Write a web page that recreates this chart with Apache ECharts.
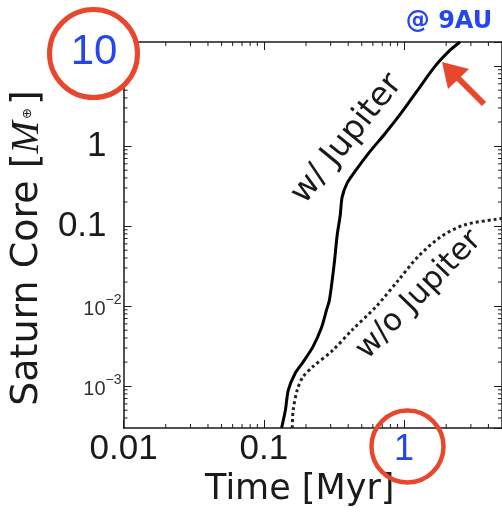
<!DOCTYPE html>
<html><head><meta charset="utf-8">
<script src="https://cdn.jsdelivr.net/npm/echarts@6/dist/echarts.min.js"></script>
<style>html,body{margin:0;padding:0;background:#fff}#c{width:502px;height:513px}</style>
</head><body><div id="c"></div>
<script>
// ---- data ----
const timeWithJupiter = [0.134, 0.1426, 0.1496, 0.1675, 0.1905, 0.224, 0.2586, 0.280, 0.294, 0.318, 0.334, 0.351, 0.362, 0.393, 0.454, 0.560, 0.736, 0.953, 1.253, 1.647, 2.13, 2.51];
const coreWithJupiter = [3e-4, 5e-4, 8.9e-4, 1.45e-3, 2e-3, 3.1e-3, 5.46e-3, 8.9e-3, 0.0119, 0.034, 0.078, 0.137, 0.23, 0.345, 0.50, 0.818, 1.45, 2.58, 5.01, 9.72, 15.8, 20];
const timeNoJupiter = [0.1596, 0.162, 0.173, 0.19, 0.224, 0.31, 0.425, 0.63, 0.91, 1.25, 1.82, 2.67, 4.54, 5];
const coreNoJupiter = [3e-4, 5e-4, 8.9e-4, 1.3e-3, 1.75e-3, 2.8e-3, 5e-3, 9.8e-3, 0.021, 0.041, 0.073, 0.103, 0.122, 0.125];

const xRange = [0.01, 5];
const yRange = [3e-4, 20];
const xTickValues = [0.01, 0.1, 1];
const xTickLabels = ['0.01', '0.1', '1'];
const yTickValues = [0.001, 0.01, 0.1, 1];
const yTickLabels = ['10^-3', '10^-2', '0.1', '1'];
const xMinorTicks = [0.02,0.03,0.04,0.05,0.06,0.07,0.08,0.09,0.2,0.3,0.4,0.5,0.6,0.7,0.8,0.9,2,3,4];
const yMinorTicks = [4e-4,5e-4,6e-4,7e-4,8e-4,9e-4,0.002,0.003,0.004,0.005,0.006,0.007,0.008,0.009,
  0.02,0.03,0.04,0.05,0.06,0.07,0.08,0.09,0.2,0.3,0.4,0.5,0.6,0.7,0.8,0.9,2,3,4,5,6,7,8,9];
const labelWith = 'w/ Jupiter';
const labelWithout = 'w/o Jupiter';
const locationLabel = '@ 9AU';

const FONT = 'Liberation Sans';
const TFONT = 'DejaVu Sans';
const BLUE = '#2446f0';
const RED = '#e8472d';
const INK = '#1a1a1a';

function findIdx(arr, v) {
  for (let i = 0; i < arr.length; i++) {
    if (Math.abs(Math.log10(arr[i]) - Math.log10(v)) < 1e-6) return i;
  }
  return -1;
}
const zip = (a, b) => a.map((v, i) => [v, b[i]]);

const chart = echarts.init(document.getElementById('c'), null, {renderer: 'canvas'});

const frameAxis = {
  type: 'log', logBase: 10,
  axisLine: {show: true, lineStyle: {color: INK, width: 1.5}},
  axisTick: {show: true, inside: true, length: 8, lineStyle: {color: INK, width: 1}},
  splitLine: {show: false},
  minorTick: {show: false}
};

chart.setOption({
  animation: false,
  backgroundColor: '#fff',
  textStyle: {fontFamily: FONT},
  grid: {left: 120, top: 42, right: -4, bottom: 85, containLabel: false},
  xAxis: [
    Object.assign({}, frameAxis, {
      position: 'bottom', min: xRange[0], max: xRange[1],
      name: 'Time [Myr]', nameLocation: 'middle', nameGap: 42,
      nameTextStyle: {fontFamily: TFONT, fontSize: 35, color: INK, padding: [0, 26, 0, 0]},
      axisLabel: {
        show: true, margin: 4, showMinLabel: true, showMaxLabel: false,
        formatter: v => {
          const i = findIdx(xTickValues, v);
          if (i < 0) return '';
          return xTickLabels[i] === '1' ? '{hl|' + xTickLabels[i] + '}' : '{n|' + xTickLabels[i] + '}';
        },
        rich: {
          n: {fontFamily: FONT, fontSize: 35, color: INK},
          hl: {fontFamily: FONT, fontSize: 36, color: BLUE}
        }
      }
    }),
    Object.assign({}, frameAxis, {
      position: 'top', min: xRange[0], max: xRange[1],
      axisLabel: {show: false}
    })
  ],
  yAxis: [
    Object.assign({}, frameAxis, {
      position: 'left', min: yRange[0], max: yRange[1],
      name: 'Saturn Core [{i|M}{s|⊕}]', nameLocation: 'middle', nameGap: 60, nameRotate: 90,
      nameTextStyle: {fontFamily: TFONT, fontSize: 38, color: INK, padding: [0, 26, 0, 0],
        rich: {
          i: {fontFamily: 'Liberation Serif', fontStyle: 'italic', fontSize: 39, color: INK},
          s: {fontFamily: 'DejaVu Sans', fontSize: 13, color: INK, padding: [0, 3, 0, 2]}
        }},
      axisLabel: {
        show: true, margin: 2, showMinLabel: false, showMaxLabel: false,
        formatter: v => {
          const i = findIdx(yTickValues, v);
          if (i < 0) return '';
          const t = yTickLabels[i];
          if (t.indexOf('^') >= 0) {
            const p = t.split('^');
            return '{b|' + p[0] + '}{p|' + p[1].replace('-', '−') + '}';
          }
          return '{g|' + t + '}';
        },
        rich: {
          g: {fontFamily: FONT, fontSize: 35, color: INK, padding: [0, 15, 0, 0]},
          b: {fontFamily: FONT, fontSize: 20, color: '#333', lineHeight: 26, verticalAlign: 'bottom'},
          p: {fontFamily: FONT, fontSize: 14, color: '#333', lineHeight: 26, verticalAlign: 'top'}
        }
      }
    }),
    Object.assign({}, frameAxis, {
      position: 'right', min: yRange[0], max: yRange[1],
      axisLabel: {show: false}
    })
  ],
  series: [
    {
      type: 'line', name: labelWith, data: zip(timeWithJupiter, coreWithJupiter),
      showSymbol: false, smooth: 0.25, clip: true,
      lineStyle: {color: '#000', width: 3}
    },
    {
      type: 'line', name: labelWithout, data: zip(timeNoJupiter, coreNoJupiter),
      showSymbol: false, smooth: 0.3, clip: true,
      lineStyle: {color: '#222', width: 3, type: [3, 3], cap: 'butt'}
    },
    {
      type: 'custom', silent: true, clip: false,
      data: xMinorTicks.map(v => [v, yRange[0]]),
      renderItem: (params, api) => {
        const v = api.value(0);
        const b = api.coord([v, yRange[0]]);
        const t = api.coord([v, yRange[1]]);
        return {type: 'group', children: [
          {type: 'line', shape: {x1: b[0], y1: b[1], x2: b[0], y2: b[1] - 4}, style: {stroke: INK, lineWidth: 1}},
          {type: 'line', shape: {x1: t[0], y1: t[1], x2: t[0], y2: t[1] + 4}, style: {stroke: INK, lineWidth: 1}}
        ]};
      }
    },
    {
      type: 'custom', silent: true, clip: false,
      data: yMinorTicks.map(v => [xRange[0], v]),
      renderItem: (params, api) => {
        const v = api.value(1);
        const l = api.coord([xRange[0], v]);
        const r = api.coord([xRange[1], v]);
        return {type: 'group', children: [
          {type: 'line', shape: {x1: l[0], y1: l[1], x2: l[0] + 4, y2: l[1]}, style: {stroke: INK, lineWidth: 1}},
          {type: 'line', shape: {x1: r[0], y1: r[1], x2: r[0] - 4, y2: r[1]}, style: {stroke: INK, lineWidth: 1}}
        ]};
      }
    }
  ],
  graphic: [
    {type: 'text', x: 449, y: 22, style: {text: locationLabel, fill: BLUE, font: 'bold 24px "DejaVu Sans"', align: 'center', verticalAlign: 'middle'}},
    {type: 'text', x: 347, y: 139, rotation: 51 * Math.PI / 180,
      style: {text: labelWith, fill: INK, font: '33px "DejaVu Sans"', align: 'center', verticalAlign: 'middle'}},
    {type: 'text', x: 419, y: 295, rotation: 46 * Math.PI / 180,
      style: {text: labelWithout, fill: INK, font: '31px "DejaVu Sans"', align: 'center', verticalAlign: 'middle'}},
    {type: 'circle', shape: {cx: 93.5, cy: 53.5, r: 44}, style: {fill: '#fff', stroke: RED, lineWidth: 5}, z: 100},
    {type: 'text', x: 94, y: 52, z: 101, style: {text: '10', fill: BLUE, font: '42px "Liberation Sans"', align: 'center', verticalAlign: 'middle'}},
    {type: 'circle', shape: {cx: 407.5, cy: 446.5, r: 36}, style: {fill: 'none', stroke: RED, lineWidth: 4.5}, z: 100},
    {type: 'polyline', shape: {points: [[484, 104], [457, 77]]}, style: {stroke: RED, lineWidth: 6}, z: 100},
    {type: 'polygon', shape: {points: [[442, 62], [448, 89], [469, 69]]}, style: {fill: RED}, z: 100}
  ]
});
</script></body></html>
